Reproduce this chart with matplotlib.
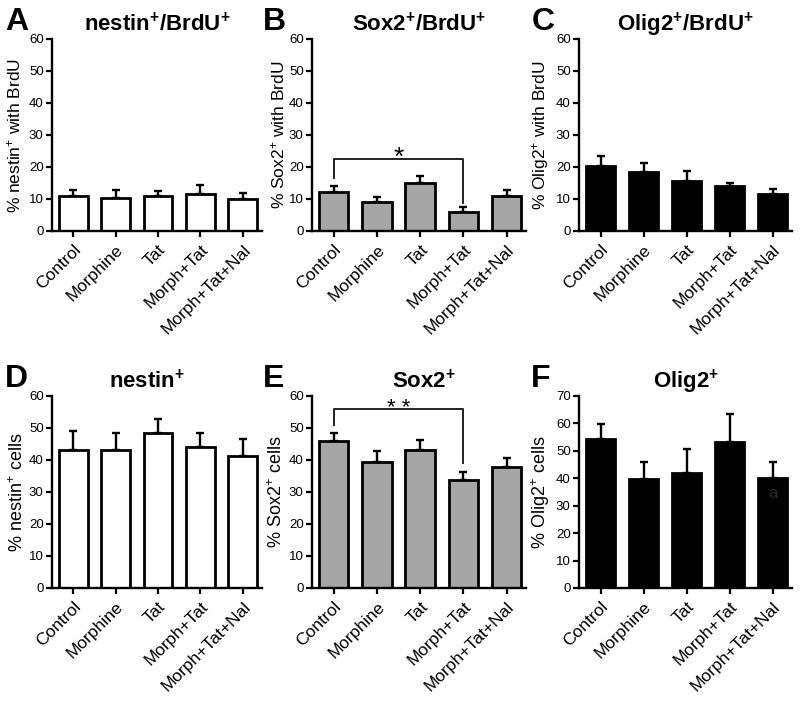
import matplotlib
matplotlib.use("Agg")
import matplotlib.pyplot as plt
import numpy as np

plt.rcParams['font.family'] = ['Liberation Sans', 'DejaVu Sans']
plt.rcParams['mathtext.default'] = 'regular'

W, H = 800, 702

groups = ["Control", "Morphine", "Tat", "Morph+Tat", "Morph+Tat+Nal"]

# Panel data (means, SEM)
nestin_brdu = [10.9, 10.2, 10.9, 11.6, 10.1]
nestin_brdu_err = [1.8, 2.5, 1.5, 2.9, 1.8]
sox2_brdu = [12.3, 9.2, 15.1, 6.0, 10.8]
sox2_brdu_err = [1.9, 1.3, 2.2, 1.6, 1.9]
olig2_brdu = [20.2, 18.4, 15.7, 14.2, 11.6]
olig2_brdu_err = [3.3, 2.9, 3.2, 0.7, 1.5]
nestin_cells = [43.0, 43.1, 48.5, 44.2, 41.3]
nestin_cells_err = [6.1, 5.4, 4.3, 4.2, 5.2]
sox2_cells = [45.8, 39.5, 43.0, 33.6, 37.9]
sox2_cells_err = [2.7, 3.2, 3.2, 2.6, 2.6]
olig2_cells = [54.2, 39.6, 42.0, 53.1, 40.1]
olig2_cells_err = [5.7, 6.4, 8.5, 10.5, 5.9]

panels = [
    ("A", r"nestin$^{+}$/BrdU$^{+}$", r"% nestin$^{+}$ with BrdU", nestin_brdu, nestin_brdu_err, "white", 60, (52, 39, 262, 231)),
    ("B", r"Sox2$^{+}$/BrdU$^{+}$", r"% Sox2$^{+}$ with BrdU", sox2_brdu, sox2_brdu_err, "#a6a6a6", 60, (312, 39, 526, 231)),
    ("C", r"Olig2$^{+}$/BrdU$^{+}$", r"% Olig2$^{+}$ with BrdU", olig2_brdu, olig2_brdu_err, "black", 60, (579, 39, 792, 231)),
    ("D", r"nestin$^{+}$", r"% nestin$^{+}$ cells", nestin_cells, nestin_cells_err, "white", 60, (52, 396, 262, 588)),
    ("E", r"Sox2$^{+}$", r"% Sox2$^{+}$ cells", sox2_cells, sox2_cells_err, "#a6a6a6", 60, (312, 396, 526, 588)),
    ("F", r"Olig2$^{+}$", r"% Olig2$^{+}$ cells", olig2_cells, olig2_cells_err, "black", 70, (579, 396, 792, 588)),
]

title_x = {"A": 157, "B": 419, "C": 685, "D": 147, "E": 424, "F": 686}
letter_x = {"A": 5, "B": 263, "C": 532, "D": 5, "E": 263, "F": 531}
ylabel_right = {"A": 23, "B": 287, "C": 551, "D": 27, "E": 286, "F": 552}

fig = plt.figure(figsize=(W / 100, H / 100), dpi=100)

def fx(px):
    return px / W

def fy(py):
    return 1 - py / H

x = np.arange(len(groups))
axes = {}
for letter, title, ylabel, vals, errs, color, ymax, (l, t, r, b) in panels:
    ax = fig.add_axes([fx(l), fy(b), (r - l) / W, (b - t) / H])
    axes[letter] = ax
    ax.bar(x, vals, width=0.68, color=color, edgecolor="black", linewidth=2.0, zorder=2)
    ax.errorbar(x, vals, yerr=[np.zeros(len(vals)), errs], fmt="none", ecolor="black",
                elinewidth=1.7, capsize=2.6, capthick=1.7, zorder=1)
    ax.set_xlim(-0.5, 4.45)
    ax.set_ylim(0, ymax)
    ax.set_yticks(np.arange(0, ymax + 1, 10))
    ax.set_xticks(x)
    ax.set_xticklabels(groups, rotation=45, ha="right", va="top", rotation_mode="anchor",
                       fontsize=12.5)
    ax.tick_params(axis="y", labelsize=9.5, length=4, width=1.6, direction="out", pad=2)
    ax.tick_params(axis="x", length=4, width=1.6, direction="out", pad=4)
    for s in ["top", "right"]:
        ax.spines[s].set_visible(False)
    for s in ["left", "bottom"]:
        ax.spines[s].set_linewidth(1.7)
    fs = 12.5 if letter in "ABC" else 13
    ax.set_ylabel(ylabel, fontsize=fs)
    ax.yaxis.set_label_coords((ylabel_right[letter] - l) / (r - l), 0.5)
    row_base = 31 if letter in "ABC" else 388
    fig.text(fx(title_x[letter]), fy(row_base), title, ha="center", va="baseline",
             fontsize=16, fontweight="bold")
    fig.text(fx(letter_x[letter]), fy(row_base - 1), letter, ha="left", va="baseline",
             fontsize=23, fontweight="bold")

# significance brackets
axB = axes["B"]
axB.plot([0, 0, 3, 3], [16.5, 22.5, 22.5, 8.8], color="#222222", linewidth=1.4, zorder=3)
axB.text(1.5, 20.6, "*", ha="center", va="baseline", fontsize=19)
axE = axes["E"]
axE.plot([0, 0, 3, 3], [51.0, 56.0, 56.0, 39.0], color="#222222", linewidth=1.4, zorder=3)
axE.text(1.5, 54.3, "* *", ha="center", va="baseline", fontsize=16, clip_on=False)

# faint label inside panel F bar
axes["F"].text(4, 34.3, "a", ha="center", va="center", fontsize=12, color="#2b2b2b", zorder=4)

fig.savefig("out.png", dpi=100)
